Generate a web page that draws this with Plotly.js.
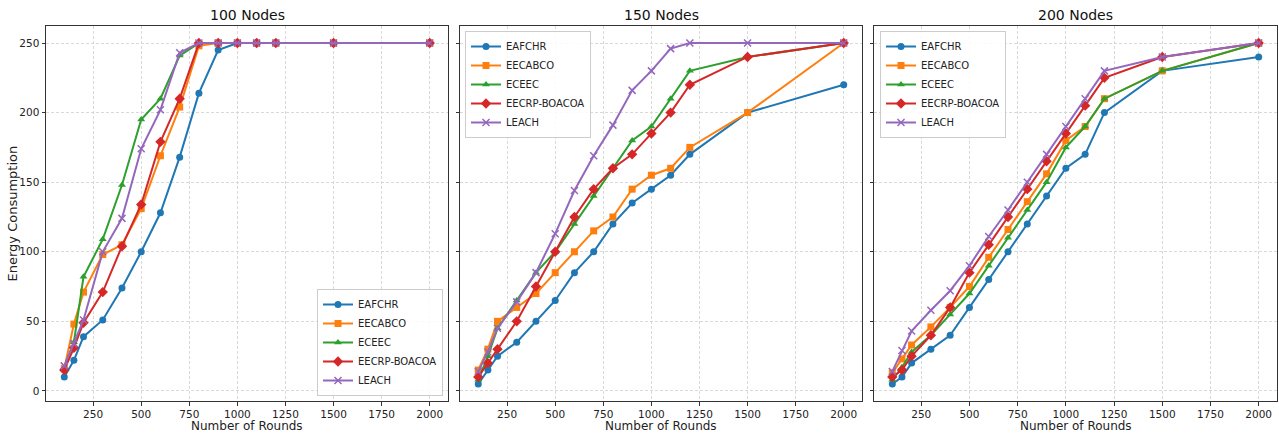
<!DOCTYPE html>
<html>
<head>
<meta charset="utf-8">
<script src="https://cdn.plot.ly/plotly-3.0.1.min.js"></script>
<style>html,body{margin:0;padding:0;background:#fff;}#chart{width:1279px;height:434px;}</style>
</head>
<body>
<div id="chart"></div>
<script>
// ---- data ----
const rounds = [100,150,200,300,400,500,600,700,800,900,1000,1100,1200,1500,2000];
const seriesNames = ["EAFCHR","EECABCO","ECEEC","EECRP-BOACOA","LEACH"];
const panelTitles = ["100 Nodes","150 Nodes","200 Nodes"];
const xTitle = "Number of Rounds";
const yTitle = "Energy Consumption";
const xTickVals = [250,500,750,1000,1250,1500,1750,2000];
const yTickVals = [0,50,100,150,200,250];

const eafchr100  = [10,22,39,51,74,100,128,168,214,245,250,250,250,250,250];
const eecabco100 = [16,48,71,98,105,131,169,204,248,250,250,250,250,250,250];
const eceec100   = [17,35,82,109,148,195,210,241,250,250,250,250,250,250,250];
const eecrp100   = [15,31,49,71,104,134,179,210,250,250,250,250,250,250,250];
const leach100   = [18,34,51,100,124,174,202,243,250,250,250,250,250,250,250];

const eafchr150  = [5,15,25,35,50,65,85,100,120,135,145,155,170,200,220];
const eecabco150 = [15,30,50,60,70,85,100,115,125,145,155,160,175,200,250];
const eceec150   = [8,25,45,65,85,100,120,140,160,180,190,210,230,240,250];
const eecrp150   = [10,20,30,50,75,100,125,145,160,170,185,200,220,240,250];
const leach150   = [14,28,45,64,85,113,144,169,191,216,230,246,250,250,250];

const eafchr200  = [5,10,20,30,40,60,80,100,120,140,160,170,200,230,240];
const eecabco200 = [13,23,33,46,60,75,96,116,136,156,180,190,210,230,250];
const eceec200   = [8,17,28,40,55,70,90,110,130,150,175,190,210,230,250];
const eecrp200   = [10,15,25,40,60,85,105,125,145,165,185,205,225,240,250];
const leach200   = [14,29,43,58,72,90,111,130,150,170,190,210,230,240,250];

// ---- styles ----
const colors = ["#1f77b4","#ff7f0e","#2ca02c","#d62728","#9467bd"];
const symbols = ["circle","square","triangle-up","diamond","x-thin-open"];
const msizes = [7,7,7,8,7];
const FONT = "DejaVu Sans, sans-serif";

const panels = [
  [eafchr100, eecabco100, eceec100, eecrp100, leach100],
  [eafchr150, eecabco150, eceec150, eecrp150, leach150],
  [eafchr200, eecabco200, eceec200, eecrp200, leach200]
];
const W = 1279, H = 434;
const xPix = [[46,448],[460,862],[874,1277]];
const yDomain = [1-401/H, 1-26/H];
const legendIds = ["legend","legend2","legend3"];

const traces = [];
panels.forEach((vals, p) => {
  vals.forEach((ys, s) => {
    traces.push({
      type: "scatter", mode: "lines+markers",
      x: rounds, y: ys, name: seriesNames[s],
      xaxis: p === 0 ? "x" : "x" + (p+1),
      yaxis: p === 0 ? "y" : "y" + (p+1),
      legend: legendIds[p],
      line: {color: colors[s], width: 2},
      marker: {symbol: symbols[s], size: msizes[s], color: colors[s],
               line: {color: colors[s], width: s === 4 ? 1.5 : 0}}
    });
  });
});

const layout = {
  width: W, height: H,
  margin: {l:0, r:0, t:0, b:0},
  paper_bgcolor: "#fff", plot_bgcolor: "#fff",
  font: {family: FONT, size: 10.5, color: "#222"},
  annotations: [],
  showlegend: true
};

const gridStyle = {showgrid: true, gridcolor: "#cfcfcf", griddash: "3px,2px", gridwidth: 0.8};

for (let p = 0; p < 3; p++) {
  const xs = p === 0 ? "" : String(p+1);
  layout["xaxis" + xs] = Object.assign({
    domain: [xPix[p][0]/W, xPix[p][1]/W],
    anchor: "y" + xs,
    range: [5, 2095],
    tickvals: xTickVals,
    ticks: "outside", ticklen: 3.5, tickcolor: "#333", tickwidth: 1,
    showline: true, mirror: true, linecolor: "#333", linewidth: 1,
    zeroline: false, automargin: false,
    tickfont: {family: FONT, size: 10.5, color: "#222"}
  }, gridStyle);
  layout["yaxis" + xs] = Object.assign({
    domain: yDomain,
    anchor: "x" + xs,
    range: [-7.25, 262.25],
    tickvals: yTickVals,
    ticks: "outside", ticklen: 3.5, tickcolor: "#333", tickwidth: 1,
    showline: true, mirror: true, linecolor: "#333", linewidth: 1,
    zeroline: false, automargin: false,
    showticklabels: p === 0,
    tickfont: {family: FONT, size: 10.5, color: "#222"}
  }, gridStyle);
  if (p > 0) layout["yaxis" + xs].matches = "y";
  const cx = (xPix[p][0] + xPix[p][1]) / 2 / W;
  layout.annotations.push({
    text: panelTitles[p], xref: "paper", yref: "paper",
    x: cx, y: 1 - 15/H,
    xanchor: "center", yanchor: "middle", showarrow: false,
    font: {family: FONT, size: 14, color: "#111"}
  });
  layout.annotations.push({
    text: xTitle, xref: "paper", yref: "paper",
    x: cx, y: 0.5/H, borderpad: 0,
    xanchor: "center", yanchor: "bottom", showarrow: false,
    font: {family: FONT, size: 12, color: "#222"}
  });
}
layout.annotations.push({
  text: yTitle, xref: "paper", yref: "paper",
  x: 12/W, y: 1 - 213.5/H, textangle: -90,
  xanchor: "center", yanchor: "middle", showarrow: false,
  font: {family: FONT, size: 13, color: "#222"}
});

const legBase = {
  bgcolor: "rgba(255,255,255,0.85)", bordercolor: "#cccccc", borderwidth: 1,
  font: {family: FONT, size: 10, color: "#222"}, itemwidth: 30, tracegroupgap: 0
};
layout.legend = Object.assign({x: 443/W, y: 1-396/H, xanchor: "right", yanchor: "bottom"}, legBase);
layout.legend2 = Object.assign({x: 465/W, y: 1-31/H, xanchor: "left", yanchor: "top"}, legBase);
layout.legend3 = Object.assign({x: 880/W, y: 1-31/H, xanchor: "left", yanchor: "top"}, legBase);

Plotly.newPlot("chart", traces, layout, {displayModeBar: false, staticPlot: true});
</script>
</body>
</html>
